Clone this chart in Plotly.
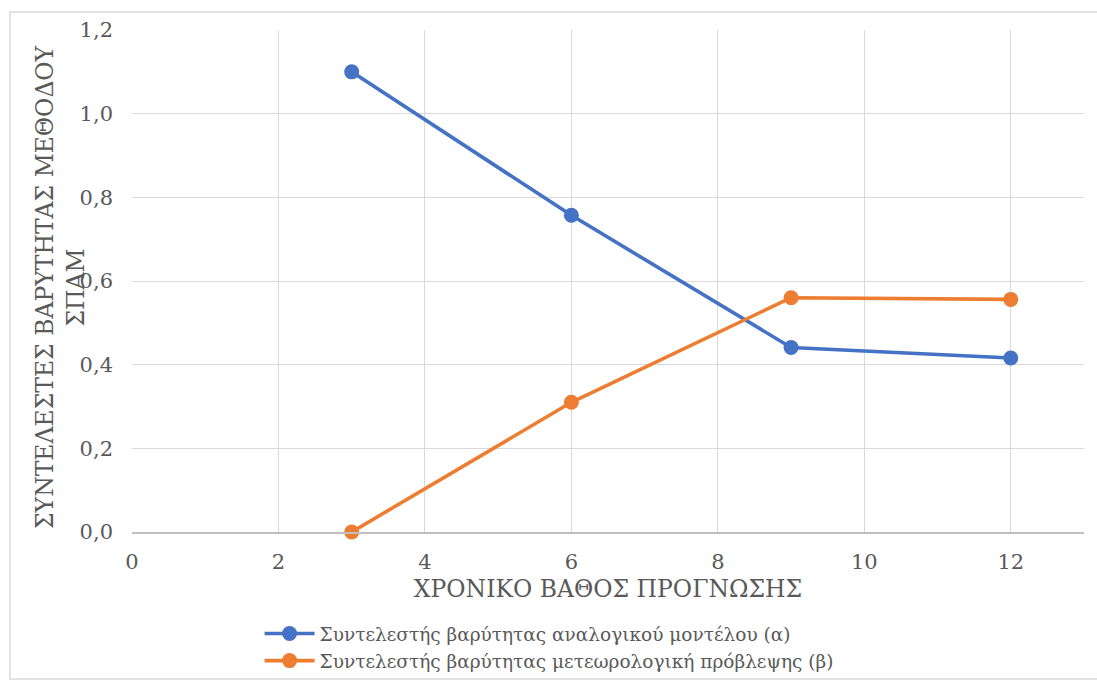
import plotly.graph_objects as go

# Forecast horizon (hours) and weighting coefficients
horizon = [3, 6, 9, 12]
coef_analog = [1.10, 0.757, 0.441, 0.416]
coef_meteo = [0.0, 0.31, 0.56, 0.556]

name_analog = "Συντελεστής βαρύτητας αναλογικού μοντέλου (α)"
name_meteo = "Συντελεστής βαρύτητας μετεωρολογική πρόβλεψης (β)"

x_ticks = [0, 2, 4, 6, 8, 10, 12]
y_ticks = [0.0, 0.2, 0.4, 0.6, 0.8, 1.0, 1.2]

y_title = "ΣΥΝΤΕΛΕΣΤΕΣ ΒΑΡΥΤΗΤΑΣ ΜΕΘΟΔΟΥ<br>ΣΠΑΜ"
x_title = "ΧΡΟΝΙΚΟ ΒΑΘΟΣ ΠΡΟΓΝΩΣΗΣ"

FONT = "DejaVu Serif"
TXT = "#595959"
GRID = "#d9d9d9"

fig = go.Figure()
fig.add_trace(go.Scatter(
    x=horizon, y=coef_analog, mode="lines+markers", name=name_analog,
    line=dict(color="#4472c4", width=3.6),
    marker=dict(size=15, color="#4472c4"),
    cliponaxis=False,
))
fig.add_trace(go.Scatter(
    x=horizon, y=coef_meteo, mode="lines+markers", name=name_meteo,
    line=dict(color="#ed7d31", width=3.6),
    marker=dict(size=15, color="#ed7d31"),
    cliponaxis=False,
))

fig.update_layout(
    width=1097, height=680,
    margin=dict(l=132, r=13, t=30, b=148, autoexpand=False),
    paper_bgcolor="white", plot_bgcolor="white",
    separators=", ",
    font=dict(family=FONT, color=TXT, size=20),
    showlegend=True,
    legend=dict(
        orientation="v", x=0.134, y=(680 - 615) / 680, xanchor="left", yanchor="top",
        yref="container",
        font=dict(family=FONT, size=18.5, color=TXT),
        itemwidth=50, tracegroupgap=0, bgcolor="rgba(0,0,0,0)",
    ),
    xaxis=dict(
        range=[0, 13], tickvals=x_ticks, ticktext=[str(v) for v in x_ticks],
        showgrid=True, gridcolor=GRID, gridwidth=1.3,
        zeroline=False, showline=True, linecolor="#bfbfbf", linewidth=1.5,
        ticks="", ticklabelstandoff=10,
        tickfont=dict(family=FONT, size=21, color=TXT),
        title=dict(text=x_title, standoff=8,
                   font=dict(family=FONT, size=23.5, color=TXT)),
    ),
    yaxis=dict(
        range=[0, 1.2], tickvals=y_ticks, tickformat=".1f",
        showgrid=True, gridcolor=GRID, gridwidth=1.3,
        zeroline=False, showline=False, ticks="", ticklabelstandoff=18,
        tickfont=dict(family=FONT, size=21, color=TXT),
    ),
    annotations=[dict(
        text=y_title, textangle=-90, showarrow=False,
        xref="paper", yref="paper", x=(60 - 132) / 952, y=(532 - 287) / 502,
        xanchor="center", yanchor="middle",
        font=dict(family=FONT, size=23.5, color=TXT),
    )],
    shapes=[dict(
        type="rect", xref="paper", yref="paper",
        x0=-122 / 952, x1=1.02, y0=-147 / 502, y1=1 + 18 / 502,
        line=dict(color="#d9d9d9", width=1.5), layer="below",
    )],
)

fig.write_html("out.html")
